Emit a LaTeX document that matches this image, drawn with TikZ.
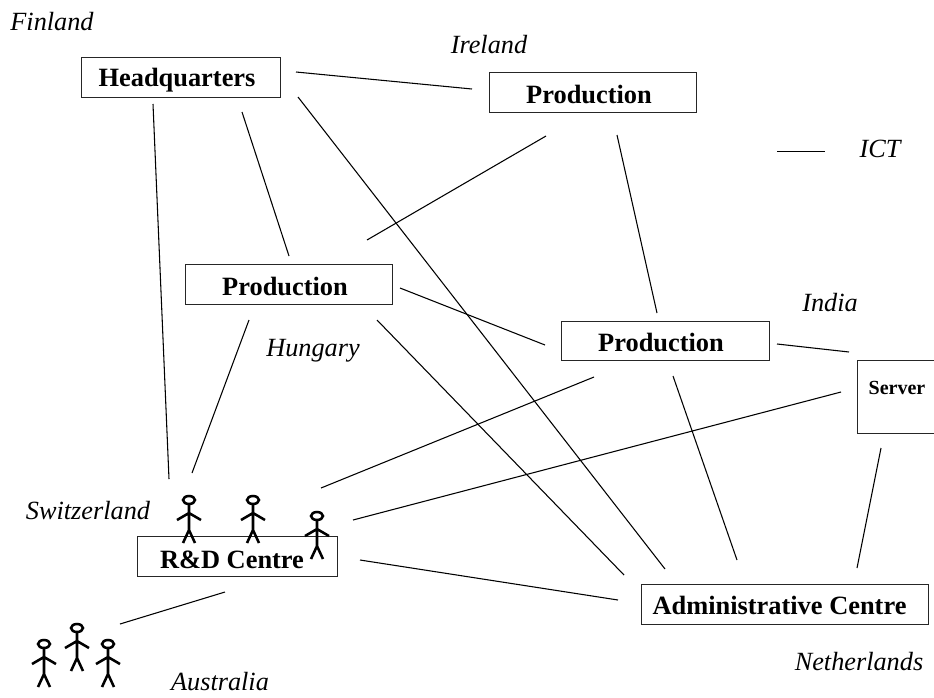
\documentclass[tikz,border=0pt]{standalone}
\usepackage{fontspec}
\setmainfont{Liberation Serif}
\tikzset{
  box/.style={draw=black!85,line width=0.85pt,fill=white,inner sep=0pt,anchor=north west},
  boxtext/.style={font=\fontsize{19.8}{22}\selectfont\bfseries,inner sep=0pt},
  place/.style={font=\fontsize{19.7}{22}\selectfont\itshape,inner sep=0pt},
  link/.style={draw=black,line width=0.8pt},
  person/.pic={
    \draw[line width=1.9pt] (0,0) ellipse (6 and 4);
    \draw[line width=1.9pt] (0,4) -- (0,30) (-12,20) -- (0,13) -- (12,20) (-6,43) -- (0,30) -- (6,43);
  }
}
\begin{document}
\begin{tikzpicture}[x=0.75pt,y=-0.75pt]
\useasboundingbox (0,0) rectangle (934,697);
\begin{scope}
\clip (0,0) rectangle (934,697);
% boxes
\node[box,minimum width=199*0.75pt,minimum height=40*0.75pt] (hq) at (81,56.5) {};
\node[box,minimum width=207*0.75pt,minimum height=40*0.75pt] (ie) at (489,72) {};
\node[box,minimum width=207*0.75pt,minimum height=40*0.75pt] (hu) at (185,264) {};
\node[box,minimum width=208*0.75pt,minimum height=39*0.75pt] (in) at (561,321) {};
\node[box,minimum width=90*0.75pt,minimum height=73*0.75pt] (sv) at (857,360) {};
\node[box,minimum width=200*0.75pt,minimum height=40*0.75pt] (rd) at (137,536) {};
\node[box,minimum width=287*0.75pt,minimum height=40*0.75pt] (ad) at (641,584) {};
\end{scope}
% box texts
\node[boxtext] (thq) at (177,80) {Headquarters};
\node[boxtext] (tie) at (589,94) {Production};
\node[boxtext] (thu) at (285,286) {Production};
\node[boxtext] (tin) at (661,342) {Production};
\node[boxtext,font=\fontsize{15}{17}\selectfont\bfseries] (tsv) at (897,388) {Server};
\node[boxtext] (trd) at (232,560) {R\&D Centre};
\node[boxtext] (tad) at (779.5,605) {Administrative Centre};
% place labels
\node[place] (fi) at (52,22) {Finland};
\node[place] (irl) at (489,45) {Ireland};
\node[place] (ict) at (880,149) {ICT};
\node[place] (ind) at (830,303) {India};
\node[place] (hun) at (313,351) {Hungary};
\node[place] (sw) at (88,511) {Switzerland};
\node[place] (nl) at (859,662) {Netherlands};
\node[place] (au) at (220,682) {Australia};
% connector ends
\coordinate (a1) at (296,72);  \coordinate (a2) at (472,89);
\coordinate (b1) at (298,97);  \coordinate (b2) at (665,569);
\coordinate (c1) at (242,112); \coordinate (c2) at (289,256);
\coordinate (d1) at (153,104); \coordinate (d2) at (169,479);
\coordinate (e1) at (546,136); \coordinate (e2) at (367,240);
\coordinate (f1) at (617,135); \coordinate (f2) at (657,313);
\coordinate (g1) at (400,288); \coordinate (g2) at (545,345);
\coordinate (h1) at (249,320); \coordinate (h2) at (192,473);
\coordinate (i1) at (377,320); \coordinate (i2) at (624,575);
\coordinate (j1) at (777,344); \coordinate (j2) at (849,352);
\coordinate (k1) at (594,377); \coordinate (k2) at (321,488);
\coordinate (l1) at (673,376); \coordinate (l2) at (737,560);
\coordinate (m1) at (841,392); \coordinate (m2) at (353,520);
\coordinate (n1) at (881,448); \coordinate (n2) at (857,568);
\coordinate (o1) at (360,560); \coordinate (o2) at (618,600);
\coordinate (p1) at (225,592); \coordinate (p2) at (120,624);
\coordinate (q1) at (777,151.5); \coordinate (q2) at (825,151.5);
\foreach \s in {a,b,c,d,e,f,g,h,i,j,k,l,m,n,o,p,q}
  \draw[link] (\s1) -- (\s2);
% people
\foreach \px/\py in {189/500,253/500,317/516,44/644,77/628,108/644}
  \pic at (\px,\py) {person};
\end{tikzpicture}
\end{document}
